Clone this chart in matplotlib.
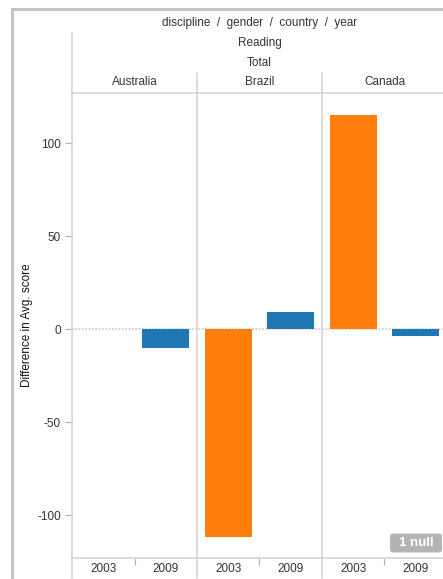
import matplotlib.pyplot as plt
from matplotlib.lines import Line2D
from matplotlib.patches import FancyBboxPatch

plt.rcParams['font.family'] = ['Liberation Sans', 'DejaVu Sans']

countries = ['Australia', 'Brazil', 'Canada']
years = ['2003', '2009']
diff_2003 = [None, -111.8, 115.3]
diff_2009 = [-10.2, 9.3, -3.4]
yticks = [-100, -50, 0, 50, 100]
colors = {'2003': '#ff7f0e', '2009': '#1f77b4'}

W, H = 443, 579
fig = plt.figure(figsize=(W / 100, H / 100), dpi=100)

def fx(px):
    return px / W

def fy(py):
    return 1 - py / H

grey = '#d2d2d2'
text_c = '#333333'
fs = 8.5

ax = fig.add_axes([fx(72), fy(557.7), 375 / W, (557.7 - 92.7) / H])
ax.set_xlim(0, 6)
ax.set_ylim(-122.7, 127.2)

n_years = len(years)
for ci, country in enumerate(countries):
    for yi, yr in enumerate(years):
        val = (diff_2003 if yr == '2003' else diff_2009)[ci]
        if val is None:
            continue
        ax.bar(ci * n_years + yi + 0.5, val, width=0.75, color=colors[yr],
               edgecolor='none', zorder=3)

ax.axhline(0, color='#c8c8c8', lw=1.2, ls=(0, (1, 1)), zorder=2)

for s in ax.spines.values():
    s.set_visible(False)

ax.set_yticks(yticks)
ax.set_yticklabels([str(t) for t in yticks])
ax.tick_params(axis='y', length=5, width=0.8, color='#b0b0b0', labelsize=fs,
               labelcolor=text_c, pad=3)
centers = [i + 0.5 for i in range(len(countries) * n_years)]
ax.set_xticks(centers)
ax.set_xticklabels(years * len(countries))
ax.set_xticks([1, 3, 5], minor=True)
ax.tick_params(axis='x', which='major', length=0, labelsize=fs,
               labelcolor=text_c, pad=4)
ax.tick_params(axis='x', which='minor', length=5, width=0.8, color='#b0b0b0')

ax.set_ylabel('Difference in Avg. score', fontsize=fs, color='#111111')
ax.yaxis.set_label_coords((33 - 72) / 375, 0.5)

def fline(x0, y0, x1, y1, color=grey, lw=1.1):
    fig.add_artist(Line2D([fx(x0), fx(x1)], [fy(y0), fy(y1)],
                          color=color, lw=lw, transform=fig.transFigure))

# outer frame
fline(11.5, 9, 443, 9, color='#c4c4c4', lw=2.2)
fline(11.5, 9, 11.5, 577, color='#c4c4c4', lw=2.2)

# axis and panel lines
fline(72, 33, 72, 578)
fline(72, 92.7, 443, 92.7)
fline(72, 557.7, 443, 557.7)
for d in [197, 322]:
    fline(d, 73, d, 578)

# header texts
fig.text(fx(259.5), fy(23), 'discipline  /  gender  /  country  /  year',
         ha='center', va='center', fontsize=fs, color=text_c)
fig.text(fx(259.5), fy(43), 'Reading', ha='center', va='center',
         fontsize=fs, color=text_c)
fig.text(fx(259.5), fy(63), 'Total', ha='center', va='center',
         fontsize=fs, color=text_c)
for ci, country in enumerate(countries):
    fig.text(fx(72 + 125 * ci + 62.5), fy(82), country, ha='center',
             va='center', fontsize=fs, color=text_c)

# null badge
fig.add_artist(FancyBboxPatch((fx(390), fy(552.5)), fx(52), 19 / H,
                              boxstyle='round,pad=0,rounding_size=0.006',
                              transform=fig.transFigure, facecolor='#b4b4b4',
                              edgecolor='none'))
fig.text(fx(416), fy(543), '1 null', ha='center', va='center',
         fontsize=9.5, fontweight='bold', color='white')

fig.savefig('out.png', dpi=100)
